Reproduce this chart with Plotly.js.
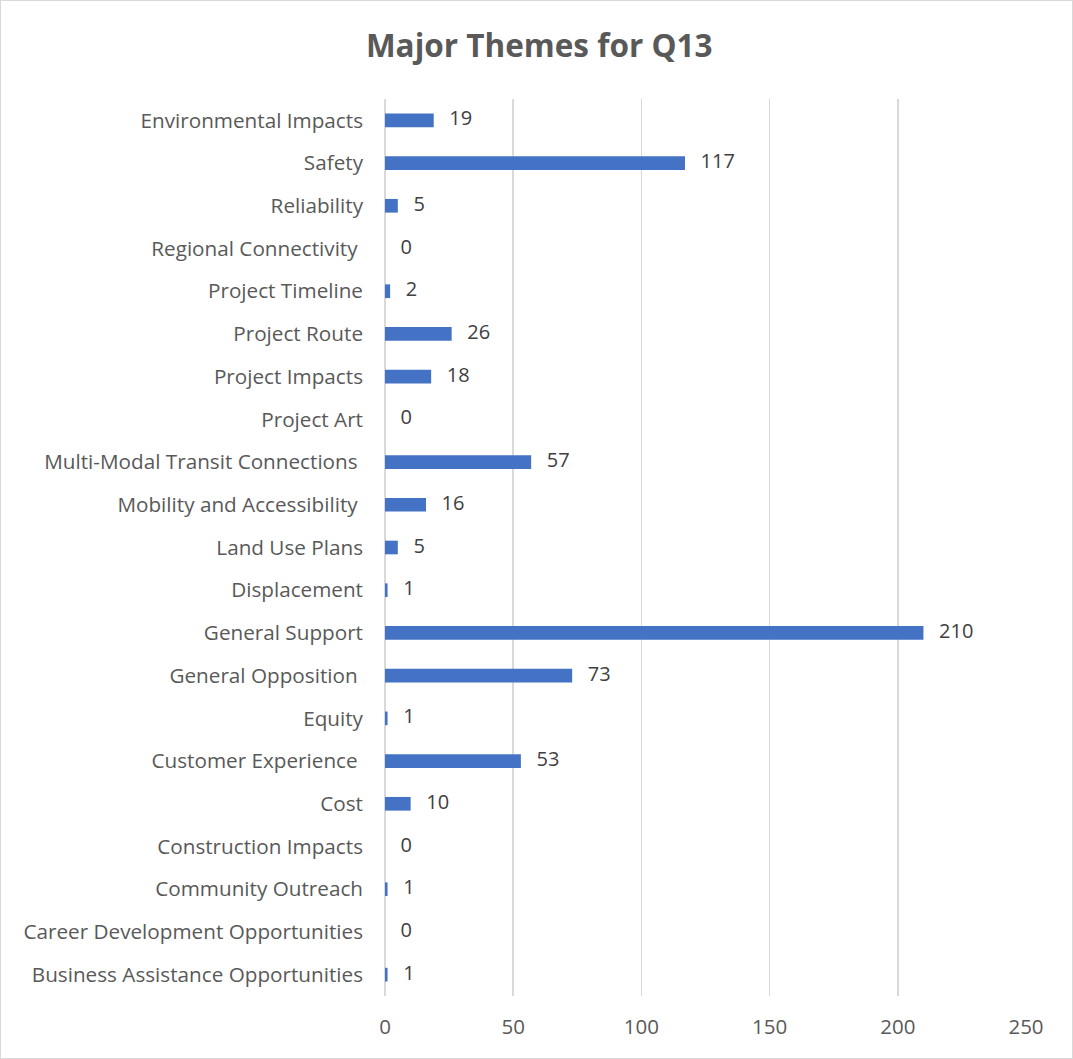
<!DOCTYPE html>
<html>
<head>
<meta charset="utf-8">
<script src="https://cdn.plot.ly/plotly-3.0.1.min.js"></script>
<style>
html,body{margin:0;padding:0;background:#fff;}
#wrap{width:1073px;height:1059px;box-sizing:border-box;border:1.5px solid #d9d9d9;overflow:hidden;}
#chart{width:1070px;height:1056px;}
</style>
</head>
<body>
<div id="wrap"><div id="chart"></div></div>
<script>
// Categories listed top to bottom as shown
const categories = [
  "Environmental Impacts",
  "Safety",
  "Reliability",
  "Regional Connectivity",
  "Project Timeline",
  "Project Route",
  "Project Impacts",
  "Project Art",
  "Multi-Modal Transit Connections",
  "Mobility and Accessibility",
  "Land Use Plans",
  "Displacement",
  "General Support",
  "General Opposition",
  "Equity",
  "Customer Experience",
  "Cost",
  "Construction Impacts",
  "Community Outreach",
  "Career Development Opportunities",
  "Business Assistance Opportunities"
];
const values = [19, 117, 5, 0, 2, 26, 18, 0, 57, 16, 5, 1, 210, 73, 1, 53, 10, 0, 1, 0, 1];
// Labels that carry a trailing space in the original
const trailingSpace = ["Regional Connectivity", "Multi-Modal Transit Connections", "Mobility and Accessibility", "General Opposition", "Customer Experience"];
const xTicks = [0, 50, 100, 150, 200, 250];

const tickText = categories.map(c => trailingSpace.includes(c) ? c + "\u00a0" : c);

const font = "'Open Sans', 'Noto Sans', sans-serif";

const bars = {
  type: 'bar',
  orientation: 'h',
  x: values,
  y: categories,
  marker: {color: '#4472C4'},
  width: 0.32,
  hoverinfo: 'none',
  cliponaxis: false
};
const labels = {
  type: 'scatter',
  mode: 'text',
  x: values,
  y: categories,
  text: values.map(v => "\u00a0\u00a0\u00a0" + v),
  textposition: 'middle right',
  textfont: {family: font, size: 20, color: '#404040'},
  hoverinfo: 'none',
  cliponaxis: false,
  showlegend: false
};

const layout = {
  width: 1070,
  height: 1056,
  paper_bgcolor: '#fff',
  plot_bgcolor: '#fff',
  showlegend: false,
  margin: {l: 384, r: 45, t: 98, b: 61},
  title: {
    text: '<b>Major Themes for Q13</b>',
    font: {family: font, size: 31.5, color: '#595959'},
    x: 0.503, xanchor: 'center',
    y: 0.957, yanchor: 'middle'
  },
  xaxis: {
    range: [0, 250],
    tickvals: xTicks,
    ticktext: xTicks.map(String),
    showgrid: true,
    gridcolor: '#d9d9d9',
    gridwidth: 1.5,
    zeroline: true,
    zerolinecolor: '#d9d9d9',
    zerolinewidth: 1.5,
    showline: false,
    ticks: '',
    ticklabelstandoff: 16,
    tickfont: {family: font, size: 20.5, color: '#595959'},
    fixedrange: true
  },
  yaxis: {
    type: 'category',
    categoryorder: 'array',
    categoryarray: categories,
    tickvals: categories,
    ticktext: tickText,
    range: [categories.length - 0.5, -0.5],
    showgrid: false,
    zeroline: false,
    showline: false,
    ticks: '',
    ticklabelstandoff: 21,
    tickfont: {family: font, size: 20.7, color: '#595959'},
    fixedrange: true
  }
};

Plotly.newPlot('chart', [bars, labels], layout, {displayModeBar: false, staticPlot: true});
</script>
</body>
</html>
